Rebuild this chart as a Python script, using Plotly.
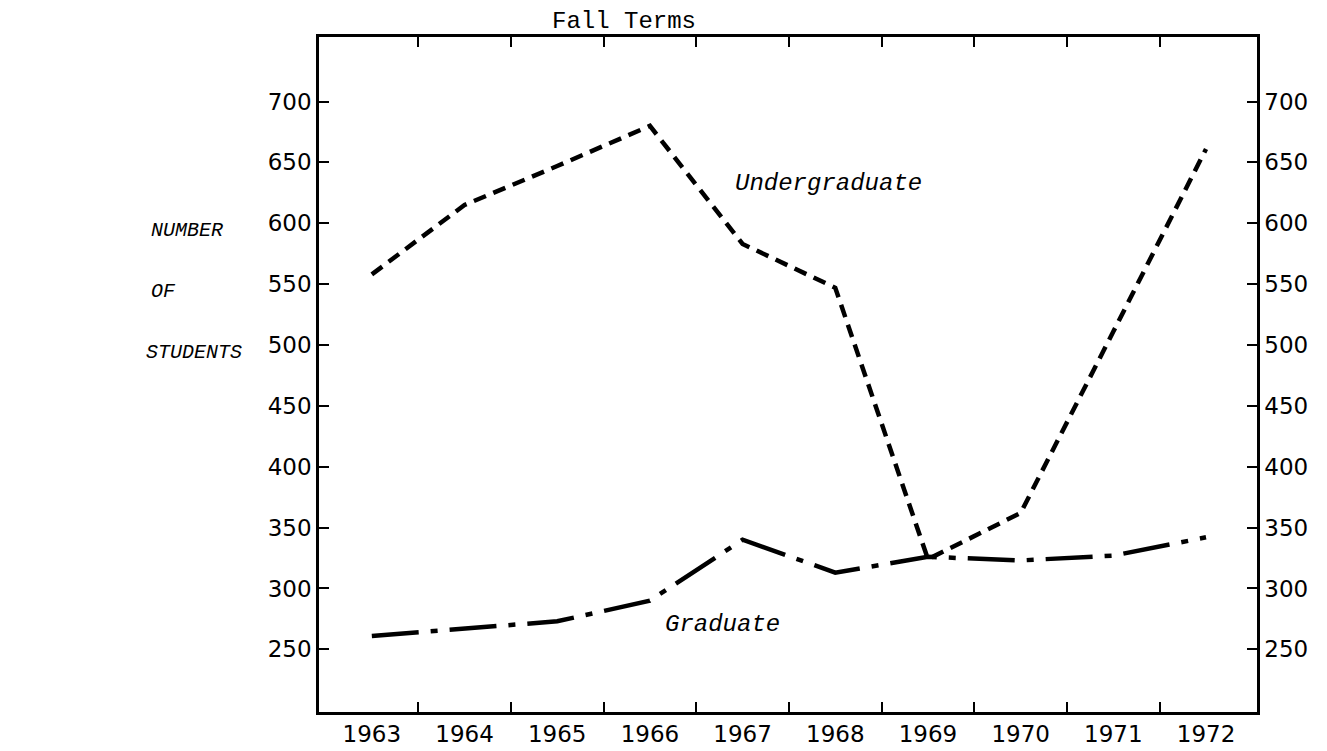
import plotly.graph_objects as go

years = [1963, 1964, 1965, 1966, 1967, 1968, 1969, 1970, 1971, 1972]
undergraduate = [558, 615, 647, 680, 583, 547, 324, 362, 511, 661]
graduate = [261, 267, 273, 290, 340, 313, 326, 323, 327, 342]
y_ticks = [250, 300, 350, 400, 450, 500, 550, 600, 650, 700]
year_labels = [str(y) for y in years]
term_ticks = [y + 0.5 for y in years[:-1]]

x_range = [1962.43, 1972.55]
y_range = [198.5, 753]

mono = "Liberation Mono"
sans = "DejaVu Sans"

# page offset of the body and desired plot box on screen
OFF = 6
L, T, W, H = 317, 35, 938, 680
ml, mt = L - OFF, T - OFF
mr, mb = 1327 - ml - W, 751 - mt - H

fig = go.Figure()
fig.add_trace(go.Scatter(
    x=years, y=undergraduate, mode="lines", name="Undergraduate",
    line=dict(color="black", width=4.5, dash="13px,8px"),
    showlegend=False, hoverinfo="skip"))
fig.add_trace(go.Scatter(
    x=years, y=graduate, mode="lines", name="Graduate",
    line=dict(color="black", width=4.5, dash="47px,12px,7px,12px"),
    showlegend=False, hoverinfo="skip"))
# invisible trace to carry the right-hand axis
fig.add_trace(go.Scatter(
    x=years, y=graduate, yaxis="y2", mode="lines",
    line=dict(color="rgba(0,0,0,0)"), showlegend=False, hoverinfo="skip"))

tfont = dict(family=sans, size=23, color="black")
fig.update_layout(
    width=1327, height=751,
    margin=dict(l=ml, r=mr, t=mt, b=mb),
    paper_bgcolor="white", plot_bgcolor="white",
    showlegend=False,
    xaxis=dict(
        range=x_range, tickmode="array", tickvals=years, ticktext=year_labels,
        ticks="", ticklen=0, showgrid=False, zeroline=False,
        showline=True, linecolor="black", linewidth=2.5, mirror="ticks",
        tickfont=tfont,
        minor=dict(tickmode="array", tickvals=term_ticks, ticks="inside",
                   ticklen=10, tickwidth=2, tickcolor="black", showgrid=False),
    ),
    yaxis=dict(
        range=y_range, tickmode="array", tickvals=y_ticks,
        ticks="inside", ticklen=10, tickwidth=2, tickcolor="black",
        showgrid=False, zeroline=False,
        showline=True, linecolor="black", linewidth=2.5,
        tickfont=tfont,
    ),
    yaxis2=dict(
        range=y_range, tickmode="array", tickvals=y_ticks, overlaying="y",
        side="right", anchor="x",
        ticks="inside", ticklen=10, tickwidth=2, tickcolor="black",
        showgrid=False, zeroline=False,
        showline=True, linecolor="black", linewidth=2.5,
        tickfont=tfont,
    ),
)

annotations = [
    dict(text="Fall Terms", x=622, y=19, font=dict(family=mono, size=24)),
    dict(text="<i>Undergraduate</i>", x=826, y=183, font=dict(family=mono, size=24)),
    dict(text="<i>Graduate</i>", x=720, y=627, font=dict(family=mono, size=24)),
    dict(text="<i>NUMBER</i>", x=185, y=230, font=dict(family=mono, size=20)),
    dict(text="<i>OF</i>", x=161, y=291, font=dict(family=mono, size=20)),
    dict(text="<i>STUDENTS</i>", x=192, y=353, font=dict(family=mono, size=20)),
]
for a in annotations:
    fig.add_annotation(
        text=a["text"], xref="paper", yref="paper",
        x=(a["x"] - L) / W, y=1 - (a["y"] - T) / H,
        xanchor="center", yanchor="middle", showarrow=False,
        font=dict(color="black", **a["font"]))

fig.write_html("out.html")
